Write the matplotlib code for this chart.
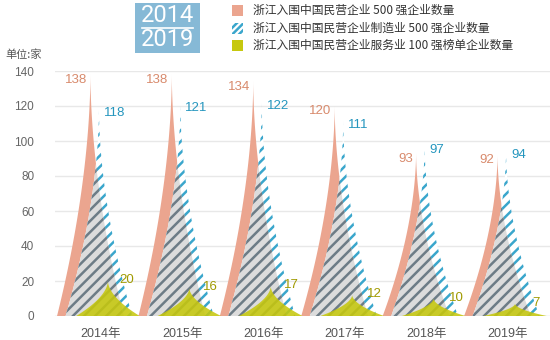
import numpy as np
import matplotlib
matplotlib.use("Agg")
import matplotlib.pyplot as plt
from matplotlib.patches import Polygon, Rectangle
from matplotlib.lines import Line2D

# ---- data ----
years = ["2014年", "2015年", "2016年", "2017年", "2018年", "2019年"]
top500 = [138, 138, 134, 120, 93, 92]
manuf500 = [118, 121, 122, 111, 97, 94]
service100 = [20, 16, 17, 12, 10, 7]
legend_labels = ["浙江入围中国民营企业 500 强企业数量",
                 "浙江入围中国民营企业制造业 500 强企业数量",
                 "浙江入围中国民营企业服务业 100 强榜单企业数量"]
yticks = [0, 20, 40, 60, 80, 100, 120, 140]

# ---- style ----
SALMON = "#EBA58F"
SALMON_TXT = "#D88A6C"
BLUE = "#3AA6CC"
BLUE_TXT = "#2596BE"
GRAY_STRIPE = "#6D7C86"
GAP_GRAY = "#DCDCDC"
YELLOW = "#C6C80E"
YELLOW_TXT = "#A09A00"
BOX = "#86B9D6"
CJK = ["Noto Sans CJK SC", "DejaVu Sans"]
NUM = ["Liberation Sans", "Noto Sans CJK SC"]

plt.rcParams["hatch.linewidth"] = 1.8
plt.rcParams["font.family"] = NUM

W, H = 550, 340
fig = plt.figure(figsize=(W / 100, H / 100), dpi=100)
ax = fig.add_axes([55 / W, 1 - 316 / H, 495 / W, 245 / H])
ax.set_xlim(-0.56, 5.52)
ax.set_ylim(0, 140)

OFF_S, OFF_M, OFF_Y = -0.125, -0.02, 0.09
WID = 0.82
P = 1.8


def spike(xc, v, w=WID, n=80):
    h = np.linspace(0, 1, n)
    half = (w / 2) * (1 - h) ** P
    xs = np.concatenate([xc - half, (xc + half)[::-1]])
    ys = np.concatenate([v * h, (v * h)[::-1]])
    return np.column_stack([xs, ys])


def edge_x(xc, v, y, w=WID):
    return xc + (w / 2) * (1 - y / v) ** P


for yv in yticks:
    ax.axhline(yv, color="#E8E8E8" if yv else "#D9D9D9", lw=1.0, zorder=0)

x = np.arange(len(years))
for i in x:
    sal = Polygon(spike(i + OFF_S, top500[i]), closed=True, facecolor=SALMON,
                  edgecolor="none", lw=0, zorder=2)
    ax.add_patch(sal)
    pts = spike(i + OFF_M, manuf500[i])
    hat = Polygon(pts, closed=True, facecolor="white", edgecolor=BLUE,
                  hatch="///", lw=0, zorder=3)
    ax.add_patch(hat)
    hat2 = Polygon(pts, closed=True, facecolor=GAP_GRAY, edgecolor=GRAY_STRIPE,
                   hatch="///", lw=0, zorder=4)
    ax.add_patch(hat2)
    hat2.set_clip_path(sal)
    ax.add_patch(Polygon(spike(i + OFF_Y, service100[i], w=0.78), closed=True,
                         facecolor=YELLOW, edgecolor="none", lw=0, alpha=0.88,
                         zorder=5))
    ax.text(i + OFF_S - 0.04, top500[i] - 3, str(top500[i]), ha="right",
            va="center", color=SALMON_TXT, fontsize=9.5, zorder=6)
    ax.text(i + OFF_M + 0.06, manuf500[i] - 2, str(manuf500[i]), ha="left",
            va="center", color=BLUE_TXT, fontsize=9.5, zorder=6)
    ax.text(edge_x(i + OFF_M, manuf500[i], service100[i]) - 0.04,
            service100[i] + 0.5, str(service100[i]), ha="left", va="center",
            color=YELLOW_TXT, fontsize=9.5, zorder=6)

ax.set_xticks(x)
ax.set_xticklabels(years, fontsize=9, color="#555555")
ax.set_yticks(yticks)
ax.set_yticklabels([str(t) for t in yticks], fontsize=8.5, color="#666666")
ax.tick_params(axis="both", length=0)
ax.tick_params(axis="y", pad=15)
ax.tick_params(axis="x", pad=9)
for s in ax.spines.values():
    s.set_visible(False)

fig.text(5 / W, 1 - 55 / H, "单位:家", fontsize=8, color="#555555",
         family=CJK, va="center", ha="left")

# title box
fig.add_artist(Rectangle((135 / W, 1 - 53 / H), 65 / W, 50 / H,
                         transform=fig.transFigure, facecolor=BOX,
                         edgecolor="none"))
for txt, yy in (("2014", 15), ("2019", 40)):
    fig.text(167.5 / W, 1 - yy / H, txt, fontsize=17, color="white",
             ha="center", va="center", family=["Roboto", "DejaVu Sans"],
             fontweight="normal")
fig.add_artist(Line2D([142 / W, 193 / W], [1 - 27.5 / H, 1 - 27.5 / H],
                      transform=fig.transFigure, color="white", lw=1.2))

# legend
rows = [10.5, 28, 45.5]
for k, (lab, yy) in enumerate(zip(legend_labels, rows)):
    if k == 1:
        r = Rectangle((232 / W, 1 - (yy + 5.5) / H), 11 / W, 11 / H,
                      transform=fig.transFigure, facecolor="white",
                      edgecolor=BLUE, hatch="/////", lw=0)
    else:
        r = Rectangle((232 / W, 1 - (yy + 5.5) / H), 11 / W, 11 / H,
                      transform=fig.transFigure,
                      facecolor=SALMON if k == 0 else YELLOW,
                      edgecolor="none", lw=0)
    fig.add_artist(r)
    fig.text(253 / W, 1 - yy / H, lab, fontsize=8.5, color="#333333",
             family=CJK, va="center", ha="left")

fig.savefig("out.png", dpi=100)
